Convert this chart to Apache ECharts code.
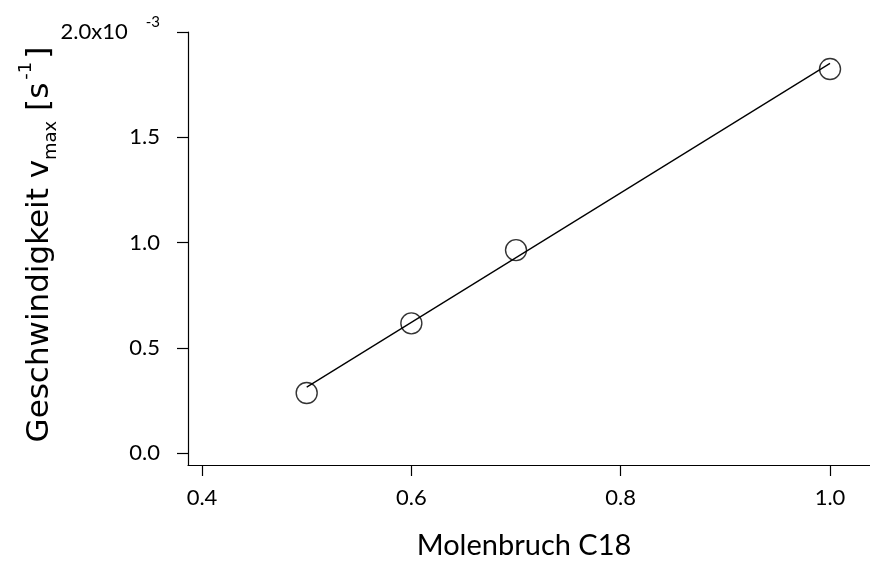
<!DOCTYPE html>
<html>
<head>
<meta charset="utf-8">
<script src="https://cdn.jsdelivr.net/npm/echarts@6/dist/echarts.min.js"></script>
<style>html,body{margin:0;padding:0;background:#fff;}#c{width:870px;height:566px;}</style>
</head>
<body>
<div id="c"></div>
<script>
// Data (y in units of 10^-3 s^-1)
var molenbruch = [0.5, 0.6, 0.7, 1.0];
var vmax = [0.285, 0.616, 0.964, 1.824];
var fitX = [0.5, 1.0];
var fitY = [0.313, 1.851];
var xTicks = [0.4, 0.6, 0.8, 1.0];
var yTicks = [0.0, 0.5, 1.0, 1.5, 2.0];

var tickFont = 'Lato';
var chart = echarts.init(document.getElementById('c'));
chart.setOption({
  animation: false,
  backgroundColor: '#fff',
  grid: { left: 188, right: 0, top: 32, bottom: 101, containLabel: false },
  xAxis: {
    type: 'value', min: 0.3866, max: 1.0382,
    axisLine: { show: true, onZero: false, lineStyle: { color: '#000', width: 1.2 } },
    axisTick: { show: true, inside: false, length: 11, customValues: xTicks, lineStyle: { color: '#000', width: 1.2 } },
    axisLabel: { show: true, customValues: xTicks, margin: 22, color: '#000', fontFamily: tickFont, fontSize: 22,
      formatter: function (v) { return v.toFixed(1); } },
    splitLine: { show: false },
    name: 'Molenbruch C18', nameLocation: 'middle', nameGap: 66, nameMoveOverlap: false,
    nameTextStyle: { color: '#000', fontFamily: tickFont, fontSize: 29, padding: [0, 10, 0, 0] }
  },
  yAxis: {
    type: 'value', min: -0.057, max: 2.0,
    axisLine: { show: true, onZero: false, lineStyle: { color: '#000', width: 1.2 } },
    axisTick: { show: true, inside: false, length: 11, customValues: yTicks, lineStyle: { color: '#000', width: 1.2 } },
    axisLabel: { show: true, customValues: yTicks, margin: 28, color: '#000', fontFamily: tickFont, fontSize: 22,
      formatter: function (v) {
        if (Math.abs(v - 2) < 1e-9) return '{m|2.0x10}{sup|-3}';
        return v.toFixed(1);
      },
      rich: {
        m: { fontFamily: tickFont, fontSize: 22, color: '#000' },
        sup: { fontFamily: tickFont, fontSize: 15, color: '#000', padding: [0, 0, 20, 18] }
      }
    },
    splitLine: { show: false },
    name: '{t|Geschwindigkeit v}{sub|max}{t| [s}{sup|-1}{t|]}',
    nameLocation: 'middle', nameRotate: 90, nameGap: 125, nameMoveOverlap: false,
    nameTextStyle: {
      color: '#000',
      padding: [0, 0, 0, 8],
      rich: {
        t: { fontFamily: 'DejaVu Sans', fontSize: 31, color: '#000' },
        sub: { fontFamily: 'DejaVu Sans', fontSize: 18, color: '#000', padding: [22, 0, 0, 0] },
        sup: { fontFamily: 'DejaVu Sans', fontSize: 18, color: '#000', padding: [0, 3, 28, 3] }
      }
    }
  },
  series: [
    {
      type: 'line', data: fitX.map(function (x, i) { return [x, fitY[i]]; }),
      showSymbol: false, symbol: 'none', silent: true,
      lineStyle: { color: '#000', width: 1.3 }
    },
    {
      type: 'scatter', data: molenbruch.map(function (x, i) { return [x, vmax[i]]; }),
      symbol: 'circle', symbolSize: 21,
      itemStyle: { color: 'rgba(0,0,0,0)', borderColor: '#000', borderWidth: 1.4 }
    }
  ]
});
</script>
</body>
</html>
